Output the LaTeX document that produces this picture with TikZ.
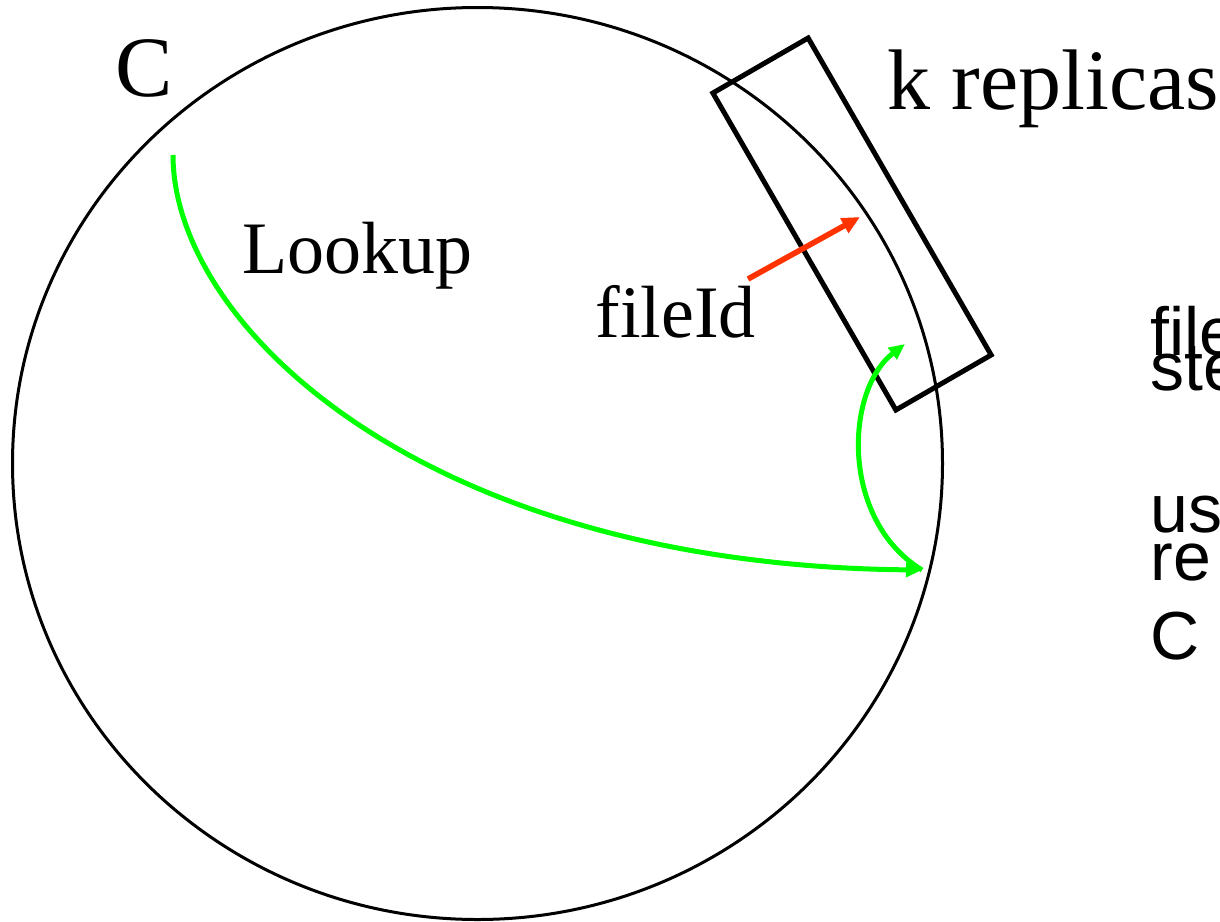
\documentclass[tikz,border=0pt]{standalone}
\usepackage{fontspec}
\setmainfont{Liberation Serif}
\setsansfont{Liberation Sans}
\usetikzlibrary{arrows.meta, positioning}

\begin{document}
\begin{tikzpicture}[x=0.5pt, y=-0.5pt,
    ring/.style={draw, line width=1.5pt},
    replicabox/.style={rectangle, draw, line width=2.5pt, minimum width=183pt, minimum height=55pt, rotate=-60, inner sep=0pt},
    label/.style={anchor=base west, inner sep=0pt, font=\fontsize{37}{40}\selectfont},
    biglabel/.style={anchor=base west, inner sep=0pt, font=\fontsize{43}{46}\selectfont},
    note/.style={anchor=base west, inner sep=0pt, font=\sffamily\fontsize{34}{36}\selectfont},
    route/.style={-{Triangle[length=8pt, width=7pt]}, draw={rgb,255:red,0;green,255;blue,0}, line width=2.5pt},
    hash/.style={-{Triangle[length=9pt, width=8pt]}, draw={rgb,255:red,255;green,51;blue,0}, line width=2.8pt}
]
\useasboundingbox (0,0) rectangle (1220,921);

% the ring of nodes
\draw[ring] (477.5,463.5) ellipse [x radius=465, y radius=456];

\node[biglabel] (client) at (115,96) {C};
\node[biglabel] (replicas) at (887,109) {k replicas};
\node[label] (lookup) at (242,273) {Lookup};
\node[label] (fileid) at (595,337) {fileId};

\node[replicabox] (kbox) at (852,224) {};

\coordinate (start) at (173,155);
\coordinate (root) at (922,570);
\coordinate (target) at (905,344);
\coordinate (hashfrom) at (748,279);
\coordinate (hashtip) at (860,217);

\draw[route] (start) .. controls (173,325) and (422,565) .. (root);
\draw[route] (root) .. controls (840,520) and (845,390) .. (target);
\draw[hash] (hashfrom) -- (hashtip);

% side text, cut at the right edge
\node[note] (line1) at (1150,355) {file};
\node[note] (line2) at (1150,390) {ste};
\node[note] (line3) at (1150,532) {us};
\node[note] (line4) at (1150,580) {re};
\node[note] (line5) at (1150,659) {C};
\end{tikzpicture}
\end{document}
